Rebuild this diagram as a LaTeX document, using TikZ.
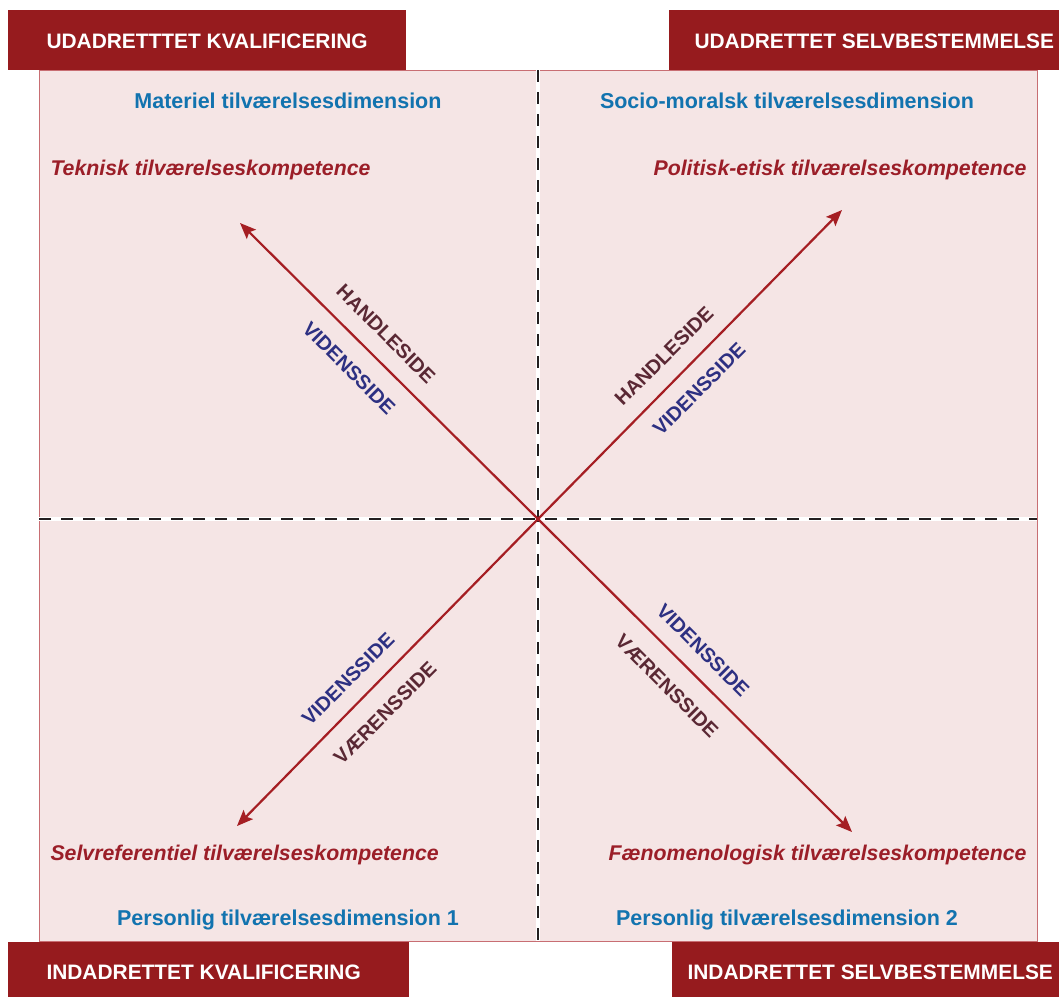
\documentclass[tikz,border=0pt]{standalone}
\usepackage{fontspec}
\setmainfont{Liberation Sans}
\usetikzlibrary{arrows.meta}

\definecolor{boxred}{RGB}{150,27,30}
\definecolor{panelpink}{RGB}{245,229,229}
\definecolor{panelline}{RGB}{200,110,115}
\definecolor{dimblue}{RGB}{18,115,175}
\definecolor{kompred}{RGB}{155,30,40}
\definecolor{arrowred}{RGB}{165,30,35}
\definecolor{handbrown}{RGB}{90,40,52}
\definecolor{vidblue}{RGB}{45,48,130}
\definecolor{dashgray}{RGB}{35,31,32}

\tikzset{every path/.style={line width=1 pt}}
\tikzset{
  cornerlabel/.style={text=white,font=\fontsize{20.9}{24}\selectfont\bfseries,anchor=base west,inner sep=0pt},
  dimlabel/.style={text=dimblue,font=\fontsize{21.5}{24}\selectfont\bfseries,anchor=base,inner sep=0pt},
  komplabel/.style={text=kompred,font=\fontsize{21.3}{24}\selectfont\bfseries\itshape,inner sep=0pt},
  sidelabel/.style={font=\fontsize{20}{24}\selectfont\bfseries,inner sep=0pt},
  axisarrow/.style={draw=arrowred,line width=2.2pt,-{Stealth[length=16pt,width=13pt,inset=3pt]}},
  dividerbg/.style={draw=white,line width=4pt},
  dividerline/.style={draw=dashgray,line width=2.8pt,dash pattern=on 12pt off 10pt}
}

\begin{document}
\begin{tikzpicture}[x=1pt,y=-1pt]
\useasboundingbox (0,0) rectangle (1059,997);

% panel
\fill[panelpink,draw=panelline] (39,70) rectangle (1037,941);

% corner boxes
\fill[boxred] (8,10) rectangle (406,70);
\fill[boxred] (669,10) rectangle (1059,70);
\fill[boxred] (8,942) rectangle (409,997);
\fill[boxred] (672,942) rectangle (1059,997);
\node[cornerlabel] (udkval) at (46,48) {UDADRETTTET KVALIFICERING};
\node[cornerlabel] (udselv) at (694,48) {UDADRETTET SELVBESTEMMELSE};
\node[cornerlabel] (indkval) at (46,979) {INDADRETTET KVALIFICERING};
\node[cornerlabel] (indselv) at (687,979) {INDADRETTET SELVBESTEMMELSE};

% dividers
\draw[dividerbg] (39,519) -- (1037,519);
\draw[dividerbg] (538,70) -- (538,941);
\draw[dividerline] (39,519) -- (1037,519);
\draw[dividerline] (538,70) -- (538,941);

% arrows
\coordinate (c) at (538,519);
\coordinate (nw) at (240,223);
\coordinate (ne) at (842,210);
\coordinate (sw) at (237,826);
\coordinate (se) at (852,832);
\draw[axisarrow] (c) -- (nw);
\draw[axisarrow] (c) -- (ne);
\draw[axisarrow] (c) -- (sw);
\draw[axisarrow] (c) -- (se);

% dimensions
\node[dimlabel] (materiel) at (288,108) {Materiel tilværelsesdimension};
\node[dimlabel] (socio) at (787,108) {Socio-moralsk tilværelsesdimension};
\node[dimlabel] (person1) at (288,925) {Personlig tilværelsesdimension 1};
\node[dimlabel] (person2) at (787,925) {Personlig tilværelsesdimension 2};

% kompetencer
\node[komplabel,anchor=base west] (teknisk) at (50,175) {Teknisk tilværelseskompetence};
\node[komplabel,anchor=base east] (politisk) at (1027,175) {Politisk-etisk tilværelseskompetence};
\node[komplabel,anchor=base west] (selvref) at (50,860) {Selvreferentiel tilværelseskompetence};
\node[komplabel,anchor=base east] (faenomen) at (1027,860) {Fænomenologisk tilværelseskompetence};

% sides
\node[sidelabel,text=handbrown,rotate=-45] (nwhand) at (386,334) {HANDLESIDE};
\node[sidelabel,text=vidblue,rotate=-45] (nwvid) at (349,368) {VIDENSSIDE};
\node[sidelabel,text=handbrown,rotate=45] (nehand) at (664,356) {HANDLESIDE};
\node[sidelabel,text=vidblue,rotate=45] (nevid) at (699,389) {VIDENSSIDE};
\node[sidelabel,text=vidblue,rotate=45] (swvid) at (348,679) {VIDENSSIDE};
\node[sidelabel,text=handbrown,rotate=45] (swvaer) at (385,713) {VÆRENSSIDE};
\node[sidelabel,text=vidblue,rotate=-45] (sevid) at (703,650) {VIDENSSIDE};
\node[sidelabel,text=handbrown,rotate=-45] (sevaer) at (667,686) {VÆRENSSIDE};
\end{tikzpicture}
\end{document}
